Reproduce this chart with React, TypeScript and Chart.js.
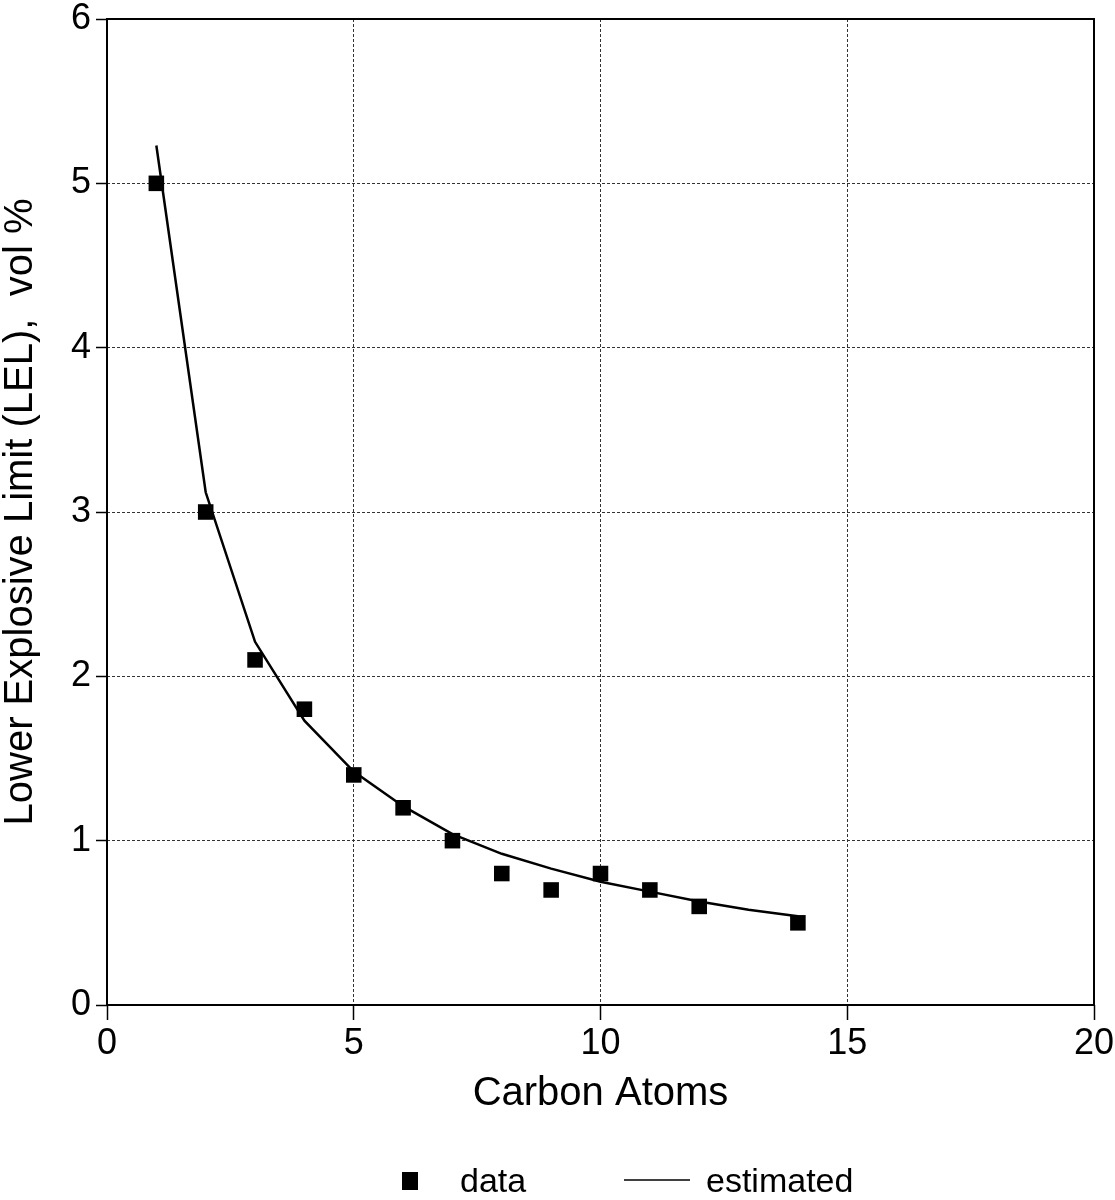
import React, { useEffect, useRef } from "react";
import { Chart, registerables } from "chart.js";

Chart.register(...registerables);

// ---- data ----
const carbonAtoms = [1, 2, 3, 4, 5, 6, 7, 8, 9, 10, 11, 12, 14];
const lelData = [5.0, 3.0, 2.1, 1.8, 1.4, 1.2, 1.0, 0.8, 0.7, 0.8, 0.7, 0.6, 0.5];
const estimatedX = [1, 2, 3, 4, 5, 6, 7, 8, 9, 10, 11, 12, 13, 14];
const estimatedY = [5.23, 3.12, 2.21, 1.73, 1.42, 1.21, 1.04, 0.92, 0.83, 0.75, 0.69, 0.63, 0.58, 0.54];
const xTickValues = [0, 5, 10, 15, 20];
const yTickValues = [0, 1, 2, 3, 4, 5, 6];
const seriesLabels = ["data", "estimated"];
const xTitle = "Carbon Atoms";
const yTitle = "Lower Explosive Limit (LEL),  vol %";

const FONT = "'Liberation Sans', Arial, Helvetica, sans-serif";

const framePlugin = {
  id: "frame",
  beforeDatasetsDraw(chart: any) {
    const { ctx, chartArea } = chart;
    ctx.save();
    ctx.strokeStyle = "#000";
    ctx.lineWidth = 2;
    ctx.strokeRect(chartArea.left, chartArea.top, chartArea.right - chartArea.left, chartArea.bottom - chartArea.top);
    ctx.restore();
  },
};

const legendPlugin = {
  id: "customLegend",
  afterDraw(chart: any) {
    const { ctx } = chart;
    const y = 1181;
    ctx.save();
    ctx.fillStyle = "#000";
    ctx.strokeStyle = "#000";
    // data marker
    ctx.fillRect(402, y - 9, 16, 18);
    ctx.font = `34px ${FONT}`;
    ctx.textBaseline = "middle";
    ctx.textAlign = "left";
    ctx.fillText(seriesLabels[0], 460, y + 2);
    // estimated line
    ctx.lineWidth = 1.5;
    ctx.beginPath();
    ctx.moveTo(624, y - 1);
    ctx.lineTo(690, y - 1);
    ctx.stroke();
    ctx.fillText(seriesLabels[1], 706, y + 2);
    ctx.restore();
  },
};

export default function App() {
  const canvasRef = useRef<HTMLCanvasElement | null>(null);

  useEffect(() => {
    document.body.style.margin = "0";
    const canvas = canvasRef.current;
    if (!canvas) return;
    Chart.defaults.color = "#000";

    const chart = new Chart(canvas, {
      type: "scatter",
      data: {
        datasets: [
          {
            label: seriesLabels[0],
            data: carbonAtoms.map((x, i) => ({ x, y: lelData[i] })),
            pointStyle: "rect",
            pointRadius: 11,
            pointHoverRadius: 11,
            backgroundColor: "#000",
            borderColor: "#000",
            borderWidth: 0,
            showLine: false,
            order: 1,
          },
          {
            label: seriesLabels[1],
            data: estimatedX.map((x, i) => ({ x, y: estimatedY[i] })),
            showLine: true,
            pointRadius: 0,
            borderColor: "#000",
            borderWidth: 2.5,
            tension: 0,
            fill: false,
            order: 2,
          },
        ],
      },
      options: {
        animation: false,
        responsive: false,
        devicePixelRatio: 1,
        layout: { padding: { top: 19, right: 21, left: 0, bottom: 0 } },
        plugins: {
          legend: { display: false },
          tooltip: { enabled: false },
        },
        scales: {
          x: {
            type: "linear",
            min: 0,
            max: 20,
            afterBuildTicks: (scale: any) => {
              scale.ticks = xTickValues.map((v) => ({ value: v }));
            },
            afterFit: (scale: any) => {
              scale.height = 195;
              scale.paddingLeft = 0;
              scale.paddingRight = 0;
            },
            ticks: {
              font: { family: FONT, size: 36, lineHeight: 1 },
              color: "#000",
              padding: 6,
              maxRotation: 0,
            },
            grid: {
              color: "#333",
              lineWidth: 1,
              drawTicks: true,
              tickLength: 15,
              tickColor: "#000",
              tickWidth: 1.5,
            },
            border: { display: false, dash: [3, 2] },
            title: {
              display: true,
              text: xTitle,
              color: "#000",
              font: { family: FONT, size: 40, lineHeight: 1.1 },
              padding: { top: 0, bottom: 84 },
            },
          },
          y: {
            type: "linear",
            min: 0,
            max: 6,
            afterBuildTicks: (scale: any) => {
              scale.ticks = yTickValues.map((v) => ({ value: v }));
            },
            afterFit: (scale: any) => {
              scale.width = 107;
              scale.paddingTop = 0;
              scale.paddingBottom = 0;
            },
            ticks: {
              font: { family: FONT, size: 36, lineHeight: 1 },
              color: "#000",
              padding: 5,
            },
            grid: {
              color: "#333",
              lineWidth: 1,
              drawTicks: true,
              tickLength: 11,
              tickColor: "#000",
              tickWidth: 1.5,
            },
            border: { display: false, dash: [3, 2] },
            title: {
              display: true,
              text: yTitle,
              color: "#000",
              font: { family: FONT, size: 40, lineHeight: 1.05 },
              padding: { top: 0, bottom: 0 },
            },
          },
        },
      },
      plugins: [framePlugin, legendPlugin],
    } as any);

    return () => {
      chart.destroy();
    };
  }, []);

  return (
    <div style={{ width: 1115, height: 1200, background: "#fff" }}>
      <canvas ref={canvasRef} width={1115} height={1200} style={{ width: 1115, height: 1200, display: "block" }} />
    </div>
  );
}
